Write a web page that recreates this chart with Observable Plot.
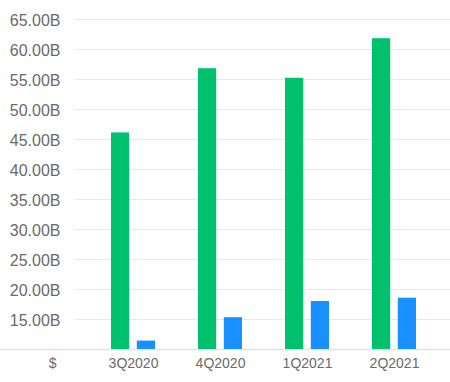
<!DOCTYPE html>
<html>
<head>
<meta charset="utf-8">
<script src="https://cdn.jsdelivr.net/npm/d3@7"></script>
<script src="https://cdn.jsdelivr.net/npm/@observablehq/plot@0.6"></script>
<style>
  html, body { margin: 0; padding: 0; background: #fff; }
  #chart svg { display: block; }
</style>
</head>
<body>
<div id="chart"></div>
<script>
const quarters = ["3Q2020", "4Q2020", "1Q2021", "2Q2021"];
const seriesA = [46.1, 56.8, 55.2, 61.8];   // green
const seriesB = [11.4, 15.3, 18.0, 18.55];  // blue
const yTicks = [15, 20, 25, 30, 35, 40, 45, 50, 55, 60, 65];
const baseValue = 10;
const baseLabel = "$";

const dataA = quarters.map((q, i) => ({q, v: seriesA[i]}));
const dataB = quarters.map((q, i) => ({q, v: seriesB[i]}));
const fmt = d => d.toFixed(2) + "B";
const font = "'Liberation Sans', Arial, sans-serif";

const chart = Plot.plot({
  width: 450,
  height: 382,
  marginTop: 19,
  marginBottom: 33,
  marginLeft: 0,
  marginRight: 0,
  style: {fontFamily: font, background: "#fff"},
  x: {domain: quarters, range: [87.5, 438], paddingInner: 0.5, paddingOuter: 0.25, axis: null},
  y: {domain: [baseValue, 65], axis: null},
  marks: [
    Plot.ruleY(yTicks, {y: d => d, stroke: "#e6e8eb", strokeWidth: 1, insetLeft: 75}),
    Plot.ruleY([baseValue], {y: d => d, stroke: "#dfe2e6", strokeWidth: 1.5}),
    Plot.barY(dataA, {x: "q", y1: baseValue, y2: "v", fill: "#00c16e", insetRight: 25.8}),
    Plot.barY(dataB, {x: "q", y1: baseValue, y2: "v", fill: "#1890ff", insetLeft: 25.8}),
    Plot.text(yTicks, {y: d => d, text: fmt, frameAnchor: "left", dx: 60, dy: 1, textAnchor: "end", fontSize: 16, fill: "#6a6a6a"}),
    Plot.text(quarters, {x: d => d, text: d => d, frameAnchor: "bottom", dy: 18, fontSize: 14, fill: "#6a6a6a"}),
    Plot.text([baseLabel], {text: d => d, frameAnchor: "bottom-left", dx: 56, dy: 18, textAnchor: "end", fontSize: 14, fill: "#6a6a6a"})
  ]
});
document.getElementById("chart").appendChild(chart);
</script>
</body>
</html>
